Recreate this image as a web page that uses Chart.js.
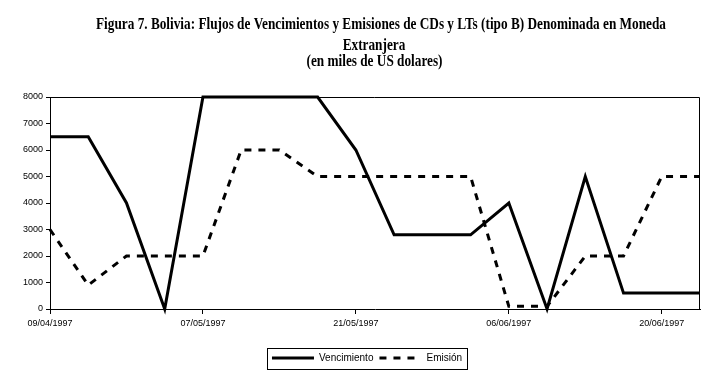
<!DOCTYPE html>
<html>
<head>
<meta charset="utf-8">
<script src="https://cdn.jsdelivr.net/npm/chart.js@4.4.1/dist/chart.umd.min.js"></script>
<style>
  html, body { margin: 0; padding: 0; background: #fff; }
  #wrap { width: 713px; height: 384px; }
</style>
</head>
<body>
<div id="wrap"><canvas id="c" width="713" height="384"></canvas></div>
<script>
// ---- data ----
const titleLines = [
  'Figura 7. Bolivia: Flujos de Vencimientos y Emisiones de CDs y LTs (tipo B) Denominada en Moneda',
  'Extranjera',
  '(en miles de US dolares)'
];
const categories = [
  '09/04/1997', '', '', '',
  '07/05/1997', '', '', '',
  '21/05/1997', '', '', '',
  '06/06/1997', '', '', '',
  '20/06/1997', ''
];
const vencimiento = [6500, 6500, 4000, 0, 8000, 8000, 8000, 8000, 6000, 2800, 2800, 2800, 4000, 0, 5000, 600, 600, 600];
const emision     = [3000, 900, 2000, 2000, 2000, 6000, 6000, 5000, 5000, 5000, 5000, 5000, 100, 100, 2000, 2000, 5000, 5000];
const yMin = 0, yMax = 8000, yStep = 1000;
const seriesNames = ['Vencimiento', 'Emisión'];

// ---- plugins ----
const titlePlugin = {
  id: 'scanTitle',
  afterDraw(chart) {
    const ctx = chart.ctx;
    const specs = [
      { cx: 381, base: 29 },
      { cx: 374, base: 50 },
      { cx: 374.5, base: 66 }
    ];
    ctx.save();
    ctx.font = 'bold 17px "Liberation Serif"';
    ctx.fillStyle = '#000';
    ctx.textBaseline = 'alphabetic';
    ctx.textAlign = 'center';
    const w1 = ctx.measureText(titleLines[0]).width;
    const sx = 570 / w1;
    titleLines.forEach((t, i) => {
      ctx.save();
      ctx.translate(specs[i].cx, specs[i].base);
      ctx.scale(sx, 1);
      ctx.fillText(t, 0, 0);
      ctx.restore();
    });
    ctx.restore();
  }
};

const framePlugin = {
  id: 'frame',
  afterLayout(chart) {
    const lg = chart.legend;
    if (lg) { lg.left -= 8; lg.right -= 8; }
  },
  afterDatasetsDraw(chart) {
    const { ctx, chartArea: a } = chart;
    ctx.save();
    ctx.strokeStyle = '#000';
    ctx.lineWidth = 1;
    ctx.beginPath();
    ctx.moveTo(a.left, a.top + 0.5);
    ctx.lineTo(a.right - 0.5, a.top + 0.5);
    ctx.lineTo(a.right - 0.5, a.bottom);
    ctx.stroke();
    ctx.restore();
  },
  afterDraw(chart) {
    const lg = chart.legend;
    if (!lg || !lg.legendHitBoxes || !lg.legendHitBoxes.length) return;
    const hb = lg.legendHitBoxes;
    const left = Math.min(...hb.map(h => h.left)) - 5;
    const right = Math.max(...hb.map(h => h.left + h.width)) + 5;
    const top = Math.min(...hb.map(h => h.top)) - 5;
    const bottom = Math.max(...hb.map(h => h.top + h.height)) + 6;
    const ctx = chart.ctx;
    ctx.save();
    ctx.strokeStyle = '#000';
    ctx.lineWidth = 1;
    ctx.strokeRect(Math.round(left) + 0.5, Math.round(top) + 0.5, Math.round(right - left), Math.round(bottom - top));
    ctx.restore();
  }
};

new Chart(document.getElementById('c'), {
  type: 'line',
  data: {
    labels: categories,
    datasets: [
      {
        label: seriesNames[0],
        data: vencimiento,
        borderColor: '#000',
        backgroundColor: '#000',
        borderWidth: 3,
        pointRadius: 0,
        tension: 0,
        fill: false,
        clip: false
      },
      {
        label: seriesNames[1],
        data: emision,
        borderColor: '#000',
        backgroundColor: '#000',
        borderWidth: 3,
        borderDash: [7, 7],
        pointRadius: 0,
        tension: 0,
        fill: false,
        clip: false
      }
    ]
  },
  options: {
    responsive: false,
    animation: false,
    devicePixelRatio: 1,
    layout: { padding: { top: 97, right: 13, bottom: 11, left: 0 } },
    plugins: {
      title: { display: false },
      tooltip: { enabled: false },
      legend: {
        position: 'bottom',
        fullSize: false,
        labels: {
          usePointStyle: true,
          pointStyle: 'line',
          pointStyleWidth: 42,
          boxHeight: 10,
          padding: 6,
          color: '#000',
          font: { family: 'Liberation Sans', size: 10 },
          generateLabels: (chart) => {
            const items = Chart.defaults.plugins.legend.labels.generateLabels(chart);
            items.forEach((it) => {
              const ds = chart.data.datasets[it.datasetIndex];
              it.lineDash = ds.borderDash || [];
              it.lineWidth = ds.borderWidth;
              it.strokeStyle = ds.borderColor;
            });
            return items;
          }
        }
      }
    },
    scales: {
      x: {
        type: 'category',
        offset: false,
        grid: {
          drawOnChartArea: false,
          tickLength: 5,
          color: (c) => (categories[c.index] ? '#000' : 'rgba(0,0,0,0)')
        },
        border: { display: true, color: '#000', width: 1 },
        ticks: {
          autoSkip: false,
          maxRotation: 0,
          minRotation: 0,
          padding: 4,
          color: '#000',
          font: { family: 'Liberation Sans', size: 9 }
        },
        afterFit: (s) => { s.height = 38; }
      },
      y: {
        min: yMin,
        max: yMax,
        grid: { drawOnChartArea: false, tickLength: 4, color: '#000' },
        border: { display: true, color: '#000', width: 1 },
        ticks: {
          stepSize: yStep,
          padding: 3,
          color: '#000',
          font: { family: 'Liberation Sans', size: 9 },
          callback: (v) => String(v)
        },
        afterFit: (s) => { s.width = 50; }
      }
    }
  },
  plugins: [titlePlugin, framePlugin]
});
</script>
</body>
</html>
